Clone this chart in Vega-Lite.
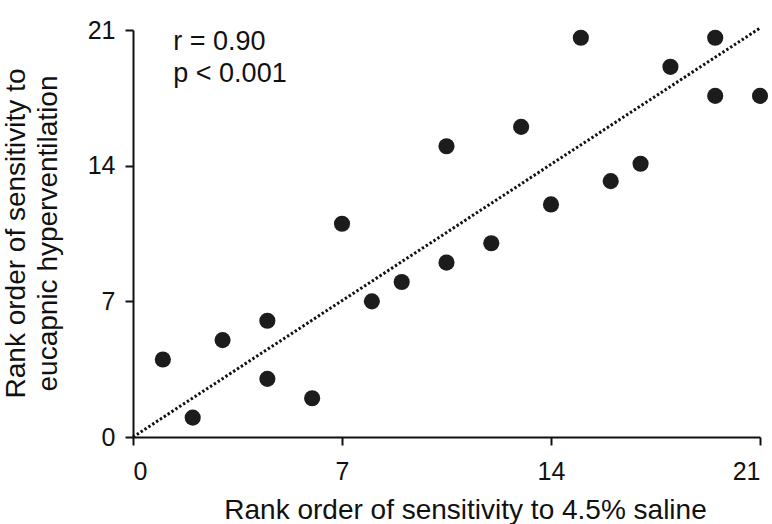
{
  "$schema": "https://vega.github.io/schema/vega-lite/v6.json",
  "width": 627,
  "height": 407,
  "autosize": {"type": "none"},
  "padding": {"left": 133, "top": 30, "right": 12, "bottom": 87},
  "background": "white",
  "config": {
    "view": {"stroke": null},
    "font": "Liberation Sans",
    "axis": {
      "grid": false,
      "domainColor": "#111",
      "domainWidth": 2,
      "tickColor": "#111",
      "tickWidth": 2,
      "tickSize": 8,
      "labelFont": "Liberation Sans",
      "labelFontSize": 25,
      "labelColor": "#111",
      "titleFont": "Liberation Sans",
      "titleFontSize": 28,
      "titleFontWeight": "normal",
      "titleColor": "#111"
    }
  },
  "datasets": {
    "points": [
      {"saline": 1, "eucapnic": 4},
      {"saline": 2, "eucapnic": 1},
      {"saline": 3, "eucapnic": 5},
      {"saline": 4.5, "eucapnic": 6},
      {"saline": 4.5, "eucapnic": 3},
      {"saline": 6, "eucapnic": 2},
      {"saline": 7, "eucapnic": 11},
      {"saline": 8, "eucapnic": 7},
      {"saline": 9, "eucapnic": 8},
      {"saline": 10.5, "eucapnic": 15},
      {"saline": 10.5, "eucapnic": 9},
      {"saline": 12, "eucapnic": 10},
      {"saline": 13, "eucapnic": 16},
      {"saline": 14, "eucapnic": 12},
      {"saline": 15, "eucapnic": 20.6},
      {"saline": 16, "eucapnic": 13.2},
      {"saline": 17, "eucapnic": 14.1},
      {"saline": 18, "eucapnic": 19.1},
      {"saline": 19.5, "eucapnic": 20.6},
      {"saline": 19.5, "eucapnic": 17.6},
      {"saline": 21, "eucapnic": 17.6}
    ],
    "fit": [
      {"saline": 0, "eucapnic": 0},
      {"saline": 21, "eucapnic": 21.1}
    ],
    "notes": [
      {"saline": 1.35, "eucapnic": 19.97, "label": "r = 0.90"},
      {"saline": 1.35, "eucapnic": 18.32, "label": "p < 0.001"}
    ]
  },
  "encoding": {
    "x": {
      "field": "saline",
      "type": "quantitative",
      "scale": {"domain": [0, 21], "nice": false, "zero": false},
      "axis": {
        "values": [0, 7, 14, 21],
        "labelPadding": 14,
        "labelBaseline": "top",
        "title": "Rank order of sensitivity to 4.5% saline",
        "titleX": 332,
        "titleY": 81,
        "titleAlign": "center",
        "titleBaseline": "alphabetic"
      }
    },
    "y": {
      "field": "eucapnic",
      "type": "quantitative",
      "scale": {"domain": [0, 21], "nice": false, "zero": false},
      "axis": {
        "values": [0, 7, 14, 21],
        "labelPadding": 10,
        "title": ["Rank order of sensitivity to", "eucapnic hyperventilation"],
        "titleX": -109,
        "titleY": 203,
        "titleAngle": -90,
        "titleAlign": "center",
        "titleBaseline": "alphabetic",
        "titleLineHeight": 32
      }
    }
  },
  "layer": [
    {
      "data": {"name": "fit"},
      "mark": {"type": "line", "color": "#111", "strokeWidth": 3, "strokeDash": [2.4, 2.2]}
    },
    {
      "data": {"name": "points"},
      "mark": {"type": "circle", "size": 260, "color": "#1c1c1c", "opacity": 1}
    },
    {
      "data": {"name": "notes"},
      "mark": {"type": "text", "align": "left", "baseline": "alphabetic", "fontSize": 27, "font": "Liberation Sans", "color": "#111"},
      "encoding": {"text": {"field": "label", "type": "nominal"}}
    }
  ]
}
